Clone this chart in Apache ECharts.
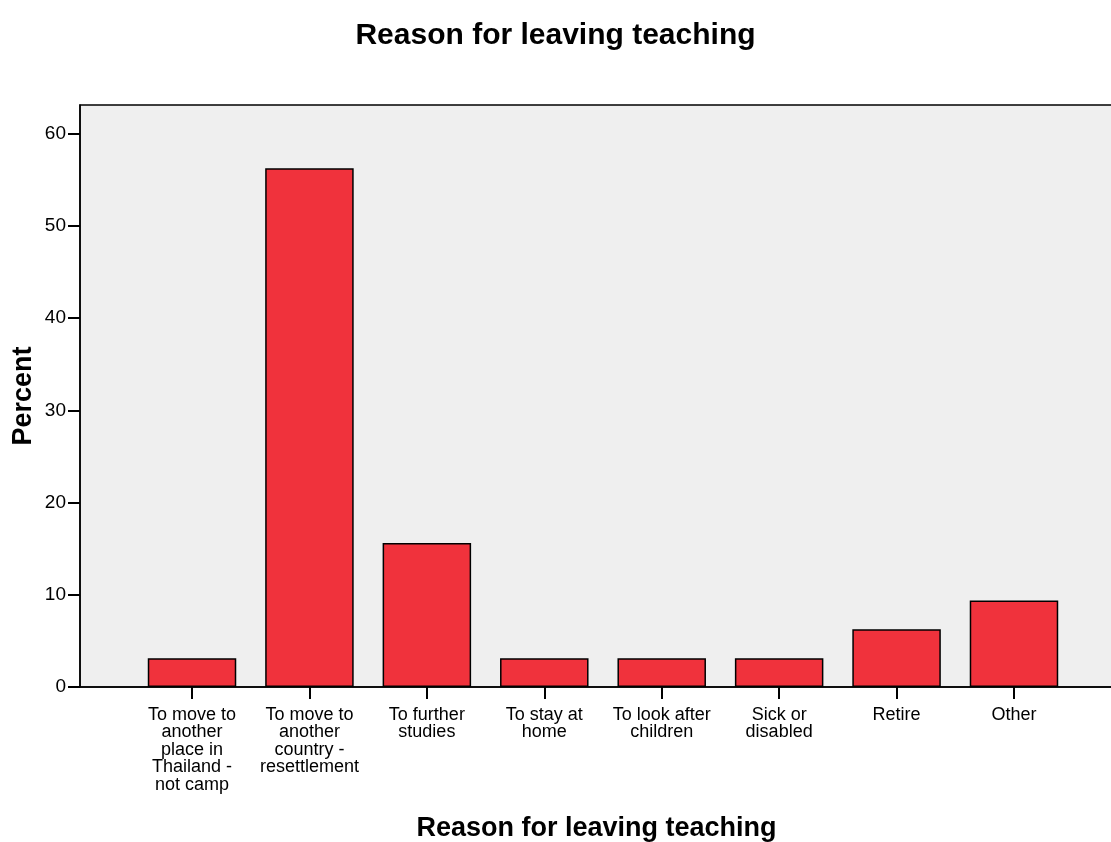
<!DOCTYPE html>
<html>
<head>
<meta charset="utf-8">
<script src="https://cdn.jsdelivr.net/npm/echarts@6/dist/echarts.min.js"></script>
<style>
html, body { margin: 0; padding: 0; background: #fff; }
#chart { width: 1111px; height: 842px; }
</style>
</head>
<body>
<div id="chart"></div>
<script>
var categories = [
	'To move to\nanother\nplace in\nThailand -\nnot camp',
	'To move to\nanother\ncountry -\nresettlement',
	'To further\nstudies',
	'To stay at\nhome',
	'To look after\nchildren',
	'Sick or\ndisabled',
	'Retire',
	'Other'
];
var percents = [3.125, 56.25, 15.625, 3.125, 3.125, 3.125, 6.25, 9.375];
var yTicks = [0, 10, 20, 30, 40, 50, 60];

var font = '"Liberation Sans", Arial, sans-serif';
var yMax = 63.1;

var myChart = echarts.init(document.getElementById('chart'));
myChart.setOption({
	animation: false,
	title: {
		text: 'Reason for leaving teaching',
		left: 'center',
		top: 16,
		textStyle: { fontFamily: font, fontSize: 30, fontWeight: 'bold', color: '#000' }
	},
	grid: [{
		left: 80, right: -2, top: 105, bottom: 155,
		outerBoundsMode: 'none',
		show: true,
		backgroundColor: '#efefef',
		borderColor: '#000',
		borderWidth: 1.5
	}, {
		left: 133.3, right: 38.3, top: 105, bottom: 155,
		outerBoundsMode: 'none'
	}],
	xAxis: [{
		gridIndex: 0,
		type: 'value',
		min: 0,
		max: 1,
		name: 'Reason for leaving teaching',
		nameLocation: 'middle',
		nameGap: 128,
		nameMoveOverlap: false,
		nameTextStyle: { fontFamily: font, fontSize: 27, fontWeight: 'bold', color: '#000' },
		axisLine: { show: true, lineStyle: { color: '#000', width: 1.5 } },
		axisTick: { show: false },
		axisLabel: { show: false },
		splitLine: { show: false }
	}, {
		gridIndex: 1,
		type: 'category',
		data: categories,
		axisLine: { show: false },
		axisTick: { show: true, alignWithLabel: true, length: 12, lineStyle: { color: '#000', width: 2 } },
		axisLabel: {
			interval: 0,
			margin: 19,
			fontFamily: font,
			fontSize: 18,
			lineHeight: 17.5,
			color: '#000',
			align: 'center'
		}
	}],
	yAxis: [{
		gridIndex: 0,
		type: 'value',
		min: 0,
		max: yMax,
		interval: 10,
		name: 'Percent',
		nameLocation: 'middle',
		nameGap: 43,
		nameMoveOverlap: false,
		nameTextStyle: { fontFamily: font, fontSize: 27, fontWeight: 'bold', color: '#000' },
		axisLine: { show: true, lineStyle: { color: '#000', width: 1.5 } },
		axisTick: { show: true, length: 12, customValues: yTicks, lineStyle: { color: '#000', width: 2 } },
		axisLabel: {
			customValues: yTicks,
			margin: 14,
			fontFamily: font,
			fontSize: 19,
			color: '#000'
		},
		splitLine: { show: false }
	}, {
		gridIndex: 1,
		type: 'value',
		min: 0,
		max: yMax,
		show: false,
		splitLine: { show: false }
	}],
	series: [{
		type: 'bar',
		xAxisIndex: 1,
		yAxisIndex: 1,
		data: percents,
		barWidth: 88.5,
		itemStyle: { color: '#f0323c', borderColor: '#000', borderWidth: 1.5 }
	}]
});
</script>
</body>
</html>
